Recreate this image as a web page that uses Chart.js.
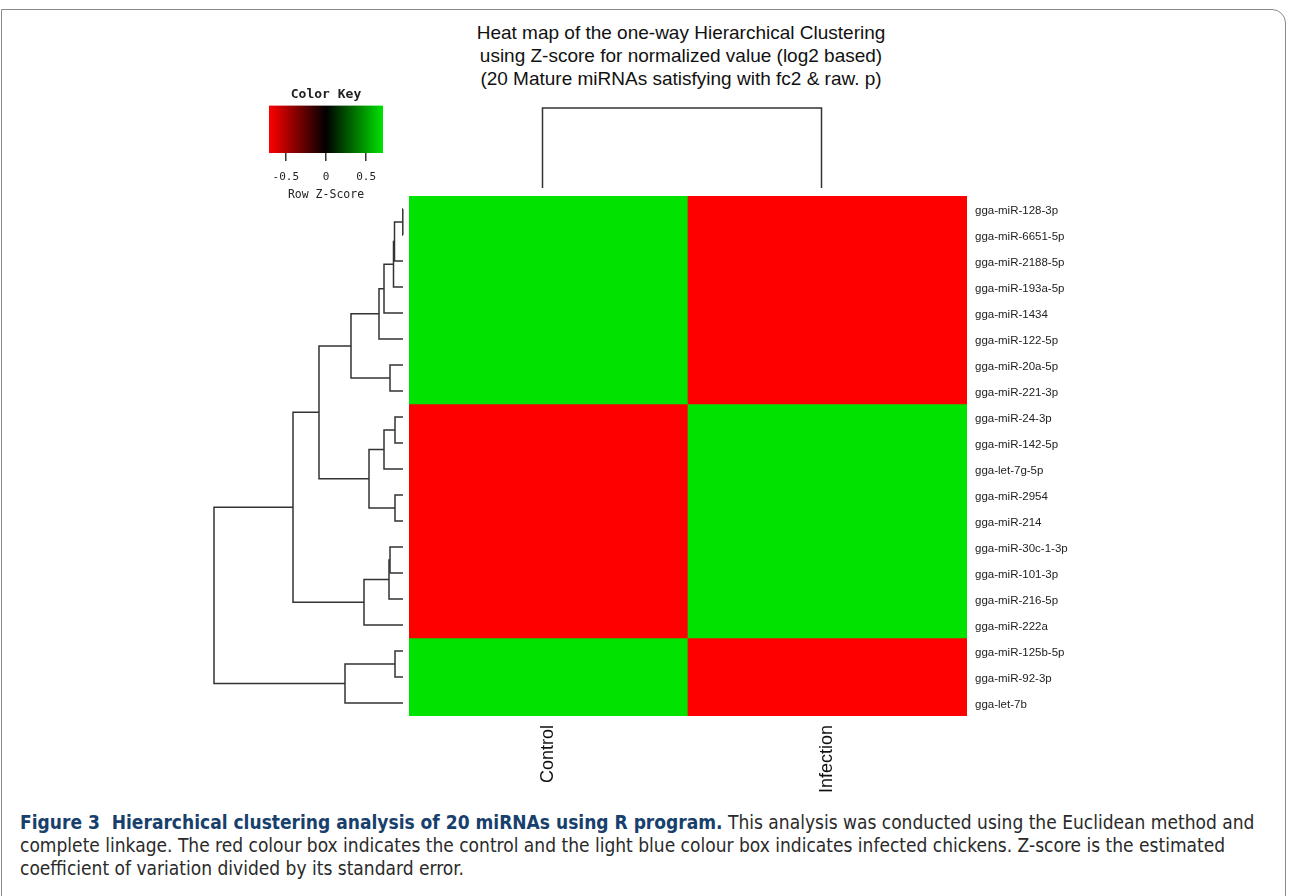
<!DOCTYPE html>
<html lang="en">
  <head>
    <meta charset="UTF-8" />
    <title>miRNA heat map</title>
    <script src="https://cdn.jsdelivr.net/npm/chart.js@4.4.1/dist/chart.umd.min.js"></script>
    <style>
      body {
        margin: 0;
        width: 1290px;
        height: 896px;
        position: relative;
        overflow: hidden;
        background: #fff;
        font-family: "Liberation Sans", Arial, sans-serif;
      }
      .frame {
        position: absolute;
        left: 1px;
        top: 9px;
        width: 1285px;
        height: 920px;
        box-sizing: border-box;
        border: 1.5px solid #8a8a8a;
        border-top-right-radius: 14px;
      }
      .title {
        position: absolute;
        left: 381px;
        width: 600px;
        top: 21px;
        text-align: center;
        font-size: 19px;
        line-height: 23px;
        color: #111;
      }
      canvas {
        position: absolute;
      }
      .caption {
        position: absolute;
        left: 20px;
        top: 811px;
        white-space: nowrap;
        font-family: "DejaVu Sans Condensed", "DejaVu Sans", sans-serif;
        font-size: 19px;
        line-height: 23px;
        color: #2a2a2a;
      }
      .caption b {
        color: #17406d;
      }
    </style>
  </head>
  <body>
    <div class="frame"></div>
    <div class="title">
      Heat map of the one-way Hierarchical Clustering<br />
      using Z-score for normalized value (log2 based)<br />
      (20 Mature miRNAs satisfying with fc2 &amp; raw. p)
    </div>

    <canvas id="key" width="150" height="130" style="left: 250px; top: 75px"></canvas>
    <canvas id="colTree" width="558" height="96" style="left: 403px; top: 100px"></canvas>
    <canvas id="rowTree" width="209" height="520" style="left: 200px; top: 196px"></canvas>
    <canvas id="heat" width="668" height="610" style="left: 409px; top: 196px"></canvas>

    <div class="caption">
      <b>Figure 3&nbsp; Hierarchical clustering analysis of 20 miRNAs using R program.</b> This analysis was conducted using the Euclidean method and<br />
      complete linkage. The red colour box indicates the control and the light blue colour box indicates infected chickens. Z-score is the estimated<br />
      coefficient of variation divided by its standard error.
    </div>

    <script>
      const columns = ["Control", "Infection"];
      const rows = [
        "gga-miR-128-3p", "gga-miR-6651-5p", "gga-miR-2188-5p", "gga-miR-193a-5p",
        "gga-miR-1434", "gga-miR-122-5p", "gga-miR-20a-5p", "gga-miR-221-3p",
        "gga-miR-24-3p", "gga-miR-142-5p", "gga-let-7g-5p", "gga-miR-2954",
        "gga-miR-214", "gga-miR-30c-1-3p", "gga-miR-101-3p", "gga-miR-216-5p",
        "gga-miR-222a", "gga-miR-125b-5p", "gga-miR-92-3p", "gga-let-7b",
      ];
      // row z-scores (two samples, so every value is about +/-0.71)
      const controlZ = [
        0.71, 0.71, 0.71, 0.71, 0.71, 0.71, 0.71, 0.71,
        -0.71, -0.71, -0.71, -0.71, -0.71, -0.71, -0.71, -0.71, -0.71,
        0.71, 0.71, 0.71,
      ];
      const infectionZ = [
        -0.71, -0.71, -0.71, -0.71, -0.71, -0.71, -0.71, -0.71,
        0.71, 0.71, 0.71, 0.71, 0.71, 0.71, 0.71, 0.71, 0.71,
        -0.71, -0.71, -0.71,
      ];

      // row dendrogram, hclust style: negative = leaf (1-based), positive = earlier merge
      const mergeA = [-1, 1, 2, 3, 4, -7, 5, -9, 8, -12, 9, 7, -14, 13, 14, 12, -18, 17, 16];
      const mergeB = [-2, -3, -4, -5, -6, -8, 6, -10, -11, -13, 10, 11, -15, -16, -17, 15, -19, -20, 18];
      const mergeH = [0.02, 0.85, 0.95, 1.9, 2.4, 1.3, 5.2, 0.8, 1.9, 0.8, 3.4, 8.4, 1.3, 1.4, 3.9, 11.0, 0.8, 5.8, 18.9];

      // column dendrogram
      const colTreeHeight = 8;

      const keyMin = -0.71;
      const keyMax = 0.71;
      const keyTicks = [-0.5, 0, 0.5];

      const GREEN = [0, 226, 0];
      const lineColor = "#333";

      function zColor(z) {
        const t = Math.max(-1, Math.min(1, z / keyMax));
        if (t < 0) return `rgb(${Math.round(255 * -t)},0,0)`;
        return `rgb(0,${Math.round(GREEN[1] * t)},0)`;
      }

      const noChrome = {
        legend: { display: false },
        tooltip: { enabled: false },
      };

      // scales must not reserve room for labels at the ends
      function noEdgePadding(s) {
        s.paddingTop = 0;
        s.paddingBottom = 0;
        s.paddingLeft = 0;
        s.paddingRight = 0;
      }

      // heat map cells
      new Chart(document.getElementById("heat"), {
        type: "bar",
        data: {
          labels: columns,
          datasets: rows.map((r, i) => ({
            label: r,
            data: [1, 1],
            backgroundColor: [zColor(controlZ[i]), zColor(infectionZ[i])],
            borderWidth: 0,
            barPercentage: 1,
            categoryPercentage: 1,
          })),
        },
        options: {
          responsive: false,
          animation: false,
          layout: { padding: 0, autoPadding: false },
          plugins: noChrome,
          scales: {
            x: {
              stacked: true,
              grid: { display: false, drawTicks: false },
              border: { display: false },
              ticks: {
                minRotation: 90,
                maxRotation: 90,
                padding: 9,
                color: "#111",
                font: { family: "Liberation Sans", size: 18 },
              },
              afterFit: (s) => {
                s.height = 90;
                noEdgePadding(s);
              },
            },
            y: {
              stacked: true,
              position: "right",
              min: 0,
              max: 20,
              reverse: true,
              grid: { display: false, drawTicks: false },
              border: { display: false },
              afterBuildTicks: (s) => {
                s.ticks = rows.map((r, i) => ({ value: i + 0.5 }));
              },
              ticks: {
                autoSkip: false,
                padding: 8,
                labelOffset: 2,
                color: "#222",
                font: { family: "Liberation Sans", size: 11.5 },
                callback: (v, i) => rows[i],
              },
              afterFit: (s) => {
                s.width = 110;
                noEdgePadding(s);
              },
            },
          },
        },
      });

      // row dendrogram segments
      const nodeY = [];
      const segs = [];
      function pos(ref) {
        if (ref < 0) return { x: 0, y: -ref - 0.5 };
        return { x: mergeH[ref - 1], y: nodeY[ref - 1] };
      }
      for (let k = 0; k < mergeA.length; k++) {
        const a = pos(mergeA[k]);
        const b = pos(mergeB[k]);
        const h = mergeH[k];
        nodeY.push((a.y + b.y) / 2);
        segs.push([
          { x: a.x, y: a.y },
          { x: h, y: a.y },
          { x: h, y: b.y },
          { x: b.x, y: b.y },
        ]);
      }

      new Chart(document.getElementById("rowTree"), {
        type: "scatter",
        data: {
          datasets: segs.map((s) => ({
            data: s,
            showLine: true,
            pointRadius: 0,
            borderColor: lineColor,
            borderWidth: 1.5,
            clip: false,
          })),
        },
        options: {
          responsive: false,
          animation: false,
          layout: { padding: 0, autoPadding: false },
          plugins: noChrome,
          scales: {
            x: { type: "linear", min: -0.6, max: 20.3, reverse: true, display: false },
            y: { type: "linear", min: 0, max: 20, reverse: true, display: false },
          },
        },
      });

      // column dendrogram
      new Chart(document.getElementById("colTree"), {
        type: "scatter",
        data: {
          datasets: [
            {
              data: [
                { x: 0.5, y: 0 },
                { x: 0.5, y: colTreeHeight },
                { x: 1.5, y: colTreeHeight },
                { x: 1.5, y: 0 },
              ],
              showLine: true,
              pointRadius: 0,
              borderColor: lineColor,
              borderWidth: 1.5,
              clip: false,
            },
          ],
        },
        options: {
          responsive: false,
          animation: false,
          layout: { padding: 0, autoPadding: false },
          plugins: noChrome,
          scales: {
            x: { type: "linear", min: 0, max: 2, display: false },
            y: { type: "linear", min: -0.8, max: colTreeHeight + 0.8, display: false },
          },
        },
      });

      // color key
      new Chart(document.getElementById("key"), {
        type: "bar",
        data: {
          labels: [""],
          datasets: [
            {
              data: [[keyMin, keyMax]],
              backgroundColor: (c) => {
                const area = c.chart.chartArea;
                if (!area) return "#000";
                const g = c.chart.ctx.createLinearGradient(area.left, 0, area.right, 0);
                g.addColorStop(0, "rgb(255,0,0)");
                g.addColorStop(0.5, "rgb(0,0,0)");
                g.addColorStop(1, `rgb(0,${GREEN[1]},0)`);
                return g;
              },
              borderWidth: 0,
              barPercentage: 1,
              categoryPercentage: 1,
            },
          ],
        },
        options: {
          indexAxis: "y",
          responsive: false,
          animation: false,
          layout: { padding: { left: 19, right: 17 }, autoPadding: false },
          plugins: {
            ...noChrome,
            title: {
              display: true,
              text: "Color Key",
              color: "#222",
              font: { family: "DejaVu Sans Mono", size: 13, weight: "bold" },
              padding: { top: 12, bottom: 3 },
            },
          },
          scales: {
            y: { display: false },
            x: {
              min: keyMin,
              max: keyMax,
              afterBuildTicks: (s) => {
                s.ticks = keyTicks.map((v) => ({ value: v }));
              },
              grid: {
                drawOnChartArea: false,
                drawTicks: true,
                tickLength: 8,
                color: "#333",
                lineWidth: 1.5,
              },
              border: { display: false },
              ticks: {
                padding: 10,
                color: "#222",
                font: { family: "DejaVu Sans Mono", size: 11 },
                callback: (v) => String(v),
              },
              title: {
                display: true,
                text: "Row Z-Score",
                color: "#222",
                font: { family: "DejaVu Sans Mono", size: 11.5 },
                padding: { top: 0, bottom: 3 },
              },
              afterFit: (s) => {
                s.height = 52;
              },
            },
          },
        },
      });
    </script>
  </body>
</html>
